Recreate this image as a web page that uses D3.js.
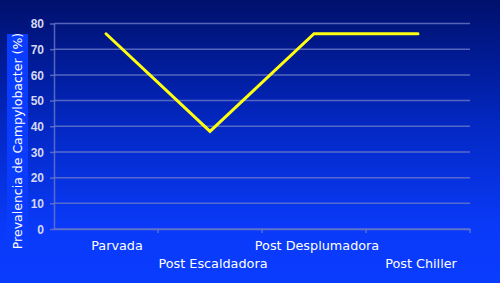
<!DOCTYPE html>
<html><head><meta charset="utf-8">
<script src="https://cdn.jsdelivr.net/npm/d3@7"></script>
<style>html,body{margin:0;padding:0;overflow:hidden;background:#0a3cff}</style>
</head><body>
<svg id="c" width="500" height="283"></svg>
<script>
const categories = ["Parvada","Post Escaldadora","Post Desplumadora","Post Chiller"];
const values = [76, 38, 76, 76];
const yTicks = [0,10,20,30,40,50,60,70,80];
const yTitle = "Prevalencia de Campylobacter (%)";

const svg = d3.select("#c");
const W = 500, H = 283;
const m = {left:54, right:30, top:23.5, bottom:54};

const defs = svg.append("defs");
const g = defs.append("linearGradient").attr("id","bg").attr("x1",0).attr("y1",0).attr("x2",0).attr("y2",1);
g.append("stop").attr("offset","0%").attr("stop-color","#00106c");
g.append("stop").attr("offset","45%").attr("stop-color","#0328c4");
g.append("stop").attr("offset","80%").attr("stop-color","#0a3af8");
g.append("stop").attr("offset","100%").attr("stop-color","#0a3cff");
svg.append("rect").attr("width",W).attr("height",H).attr("fill","url(#bg)");

const x = d3.scaleBand().domain(categories).range([m.left, W - m.right]);
const y = d3.scaleLinear().domain([0,80]).range([H - m.bottom, m.top]);

const gridColor = "#6a78c8";
svg.append("g").selectAll("line").data(yTicks).join("line")
  .attr("x1", m.left).attr("x2", W - m.right)
  .attr("y1", d => y(d)).attr("y2", d => y(d))
  .attr("stroke", gridColor).attr("stroke-width", 1.5).attr("stroke-opacity", 0.8);

const ya = svg.append("g").attr("transform", `translate(${m.left},0)`)
  .call(d3.axisLeft(y).tickValues(yTicks).tickSize(4).tickSizeOuter(0));
ya.select(".domain").attr("stroke", gridColor).attr("stroke-width",1.5).attr("stroke-opacity",0.8);
ya.selectAll(".tick line").attr("stroke", gridColor).attr("stroke-width",1.5).attr("stroke-opacity",0.8);
ya.selectAll("text").attr("fill","#d4d8f2").attr("font-family","Arial, 'Liberation Sans', sans-serif")
  .attr("font-size","12px").attr("font-weight","bold").attr("x",-10).attr("dy","0.35em");

const xa = svg.append("g").attr("transform", `translate(0,${y(0)})`)
  .call(d3.axisBottom(x).tickSize(0).tickSizeOuter(0).tickFormat(""));
xa.select(".domain").attr("stroke", gridColor).attr("stroke-width",1.5).attr("stroke-opacity",0.8);
const bounds = categories.map(c => x(c) + x.bandwidth());
xa.append("g").selectAll("line").data(bounds).join("line")
  .attr("x1", d => d).attr("x2", d => d).attr("y1", 0).attr("y2", 4)
  .attr("stroke", gridColor).attr("stroke-width",1.5).attr("stroke-opacity",0.8);

svg.append("g").selectAll("text").data(categories).join("text")
  .attr("x", (d,i) => x(d) + x.bandwidth()/2 + (i===0 ? 11 : 3))
  .attr("y", (d,i) => y(0) + (i % 2 === 0 ? 21 : 39))
  .attr("text-anchor","middle")
  .attr("fill","#ffffff")
  .attr("font-family","'DejaVu Sans', Verdana, sans-serif")
  .attr("font-size","12.8px")
  .text(d => d);

svg.append("rect").attr("x",7).attr("y",34).attr("width",21).attr("height",214).attr("fill","#0a3cff");
svg.append("text")
  .attr("transform", `translate(22,${(34+248)/2}) rotate(-90)`)
  .attr("text-anchor","middle")
  .attr("fill","#ffffff")
  .attr("font-family","'DejaVu Sans', Verdana, sans-serif")
  .attr("font-size","12.5px")
  .text(yTitle);

const line = d3.line()
  .x((d,i) => x(categories[i]) + x.bandwidth()/2)
  .y(d => y(d));
svg.append("path").datum(values)
  .attr("d", line).attr("fill","none")
  .attr("stroke","#ffff10").attr("stroke-width",3)
  .attr("stroke-linejoin","miter").attr("stroke-linecap","round");
</script>
</body></html>
